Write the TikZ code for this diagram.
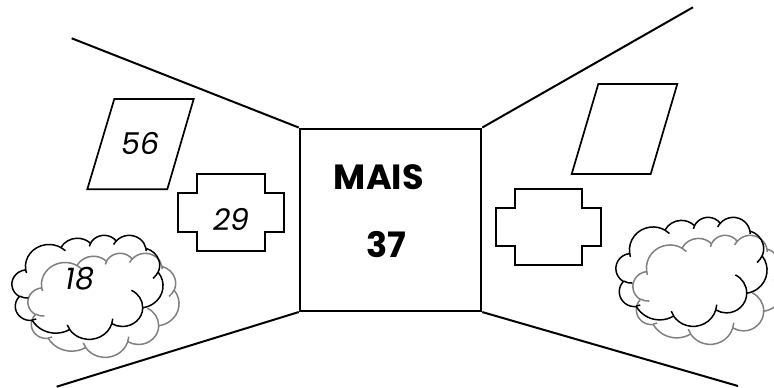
\documentclass[tikz,border=0pt]{standalone}
\usepackage{fontspec}
\setmainfont{Poppins}
\newcommand\cvt[4]{%
  \pgfmathsetmacro\cts{atan2((#1)*sin(#3),(#2)*cos(#3))}%
  \pgfmathsetmacro\cte{atan2((#1)*sin((#3)+(#4)),(#2)*cos((#3)+(#4)))}%
  \pgfmathsetmacro\cdd{\cte-(\cts)}%
  \pgfmathsetmacro\cdd{\cdd-360*round((\cdd-(#4))/360)}%
}
\tikzset{
  oarc/.style n args={4}{insert path={\pgfextra{\cvt{#1}{#2}{#3}{#4}} arc[start angle=\cts, delta angle=\cdd, x radius=#1, y radius=#2]}},
  frame/.style={line width=2pt},
  fig/.style={line width=1.7pt, line join=miter},
  cloudline/.style={line width=1.5pt},
  num/.style={font=\fontsize{30}{34}\selectfont\itshape, inner sep=0pt},
  big/.style={font=\fontsize{35}{40}\selectfont\bfseries, inner sep=0pt},
}
\newcommand\ocloud[5]{%
  \pgfmathsetmacro\cxs{(#3)/432}\pgfmathsetmacro\cys{-(#4)/432}%
  \begin{scope}[shift={(#1,#2)}, x=\cxs pt, y=\cys pt]
    \draw[cloudline,#5] (39,143.7)
      [oarc={67.53}{91.90}{-190.487}{123.781}]
      [oarc={53.33}{72.67}{-144.102}{89.945}]
      [oarc={43.65}{59.45}{-145.808}{99.723}]
      [oarc={48.57}{65.95}{-130.986}{117.242}]
      [oarc={53.33}{72.73}{-78.709}{109.027}]
      [oarc={67.75}{92.20}{-46.267}{130.269}]
      [oarc={57.85}{78.67}{0.625}{114.033}]
      [oarc={67.52}{92.15}{22.452}{115.173}]
      [oarc={77.20}{105.43}{66.243}{75.711}]
      [oarc={43.60}{59.18}{-274.942}{146.736}]
      [oarc={43.45}{59.45}{-246.829}{152.519}] -- cycle;
    \draw[cloudline,#5]
      (46.93,261.77) [oarc={43.45}{59.45}{86.742}{26.430}]
      (69.28,348.99) [oarc={43.60}{59.18}{73.610}{11.447}]
      (164.78,390.90) [oarc={67.52}{92.15}{137.624}{14.081}]
      (288.27,347.51) [oarc={67.52}{92.15}{6.453}{15.998}]
      (341.29,229.54) [oarc={57.85}{78.67}{-70.292}{70.917}]
      (417.98,153.54) [oarc={53.33}{72.73}{30.318}{27.752}]
      (383.24,54.26) [oarc={48.57}{65.95}{-13.744}{14.859}]
      (290.78,39.52) [oarc={48.57}{65.95}{-149.181}{18.195}]
      (221.41,47.20) [oarc={43.65}{59.45}{-163.494}{17.686}]
      (140.00,51.92) [oarc={67.53}{91.90}{-66.707}{12.319}]
      (41.27,157.89) [oarc={67.53}{91.90}{157.654}{11.858}];
  \end{scope}}
\begin{document}
\begin{tikzpicture}[x=1pt,y=-1pt]
\useasboundingbox (0,0) rectangle (774,388);
% room frame
\node[draw, frame, minimum width=181.5pt, minimum height=182.5pt, inner sep=0pt] (sq) at (390.5,219.8) {};
\coordinate (tl) at (71.7,38.3);
\coordinate (tr) at (693,7.3);
\coordinate (bl) at (56.7,386.7);
\coordinate (br) at (738,386);
\draw[frame] (sq.north west) -- (tl);
\draw[frame] (sq.north east) -- (tr);
\draw[frame] (sq.south west) -- (bl);
\draw[frame] (sq.south east) -- (br);
\node[big] (mais) at (378.8,177.5) {MAIS};
\node[big] (n37) at (386.3,245) {37};
% left wall
\draw[fig] (114.3,99) -- (193.7,99) -- (167.3,189.3) -- (87.3,189.3) -- cycle;
\node[num] (n56) at (140.7,143.3) {56};
\draw[fig] (197,174.3) -- (265.3,174.3) -- (265.3,193.3) -- (284.3,193.3) -- (284.3,231.7)
  -- (265.3,231.7) -- (265.3,250.7) -- (197,250.7) -- (197,231.7) -- (177.7,231.7)
  -- (177.7,193.3) -- (197,193.3) -- cycle;
\node[num] (n29) at (231.7,219.3) {29};
\ocloud{28}{253}{151}{104}{gray}
\ocloud{12}{235}{151}{104}{black}
\node[num] (n18) at (80,279) {18};
% right wall
\draw[fig] (598.3,84) -- (677.3,84) -- (650.7,174) -- (571.7,174) -- cycle;
\draw[fig] (514.7,189) -- (582.3,189) -- (582.3,207.7) -- (601.3,207.7) -- (601.3,245.7)
  -- (582.3,245.7) -- (582.3,265) -- (514.7,265) -- (514.7,245.7) -- (495.7,245.7)
  -- (495.7,207.7) -- (514.7,207.7) -- cycle;
\ocloud{633}{235}{151}{109}{gray}
\ocloud{616}{217}{151}{109}{black}
\end{tikzpicture}
\end{document}
